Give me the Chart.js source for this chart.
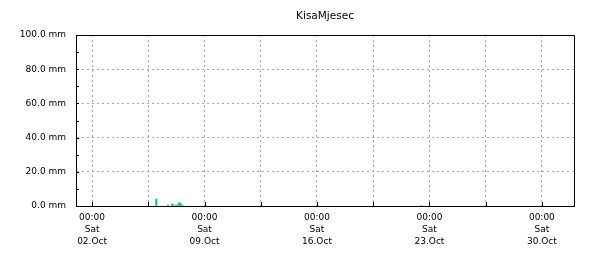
<!DOCTYPE html>
<html>
<head>
<meta charset="utf-8">
<script src="https://cdn.jsdelivr.net/npm/chart.js@4"></script>
<style>
  body { margin: 0; background: #fff; }
</style>
</head>
<body>
<canvas id="rainChart" width="594" height="255"></canvas>
<script>

    // days counted from 01.Oct 00:00
    const rainDays = [5.00, 5.72, 5.99, 6.12, 6.27, 6.41, 6.49, 6.61, 21.51]
    const rainMm = [4.1, 0.6, 1.2, 0.6, 0.6, 1.75, 1.75, 0.6, 0.3]

    const gridDays = [1, 4.5, 8, 11.5, 15, 18.5, 22, 25.5, 29]
    const labelDays = [1, 8, 15, 22, 29]
    const tickLabels = [
        ["00:00", "Sat", "02.Oct"],
        ["00:00", "Sat", "09.Oct"],
        ["00:00", "Sat", "16.Oct"],
        ["00:00", "Sat", "23.Oct"],
        ["00:00", "Sat", "30.Oct"]
    ]

    const font = { family: "DejaVu Sans", size: 9, lineHeight: 1.3 }

    const frame = {
        id: 'frame',
        afterDraw(chart) {
            const { ctx, chartArea: a, scales } = chart
            ctx.save()
            ctx.strokeStyle = '#000'
            ctx.lineWidth = 1
            ctx.beginPath()
            ctx.moveTo(a.left, a.top + 0.5)
            ctx.lineTo(a.right + 0.5, a.top + 0.5)
            ctx.lineTo(a.right + 0.5, a.bottom)
            scales.x.ticks.forEach(t => {
                const px = Math.round(scales.x.getPixelForValue(t.value)) + 0.5
                ctx.moveTo(px, a.bottom)
                ctx.lineTo(px, a.bottom - 4)
            })
            scales.y.ticks.forEach(t => {
                const py = Math.round(scales.y.getPixelForValue(t.value)) + 0.5
                ctx.moveTo(a.left, py)
                ctx.lineTo(a.left + 3, py)
            })
            ctx.stroke()
            ctx.restore()
        }
    }

    const ctx = document.getElementById("rainChart")

    const data = {
        datasets: [{
            data: rainDays.map((d, i) => ({ x: d, y: rainMm[i] })),
            backgroundColor: '#10bcbc',
            barThickness: 1.5,
            grouped: false
        }]
    }

    const config = {
        type: 'bar',
        data: data,
        options: {
            responsive: false,
            devicePixelRatio: 1,
            animation: false,
            layout: { padding: { left: 0, right: 20, top: 0, bottom: 0 } },
            plugins: {
                legend: { display: false },
                tooltip: { enabled: false },
                title: {
                    display: true,
                    text: 'KisaMjesec',
                    fullSize: false,
                    color: '#000',
                    font: { family: "DejaVu Sans", size: 10.5, weight: 'normal', lineHeight: 1.2 },
                    padding: { top: 10, bottom: 12.4 }
                }
            },
            scales: {
                x: {
                    type: 'linear',
                    min: 0,
                    max: 31,
                    offset: false,
                    afterBuildTicks: scale => {
                        scale.ticks = gridDays.map(v => ({ value: v }))
                    },
                    afterFit: scale => { scale.height = 49 },
                    ticks: {
                        autoSkip: false,
                        maxRotation: 0,
                        padding: 6,
                        color: '#000',
                        font: font,
                        callback: v => {
                            const i = labelDays.indexOf(v)
                            return i < 0 ? '' : tickLabels[i]
                        }
                    },
                    grid: { color: '#a6a6a6', drawTicks: false, offset: false },
                    border: { color: '#000', width: 1, dash: [2, 3] }
                },
                y: {
                    min: 0,
                    max: 100,
                    afterFit: scale => { scale.width = 76 },
                    ticks: {
                        stepSize: 10,
                        autoSkip: false,
                        padding: 10,
                        color: '#000',
                        font: font,
                        callback: v => v % 20 === 0 ? v.toFixed(1) + ' mm' : ''
                    },
                    grid: {
                        drawTicks: false,
                        color: c => c.tick && c.tick.value % 20 === 0 ? '#a6a6a6' : 'rgba(0,0,0,0)'
                    },
                    border: { color: '#000', width: 1, dash: [2, 3] }
                }
            }
        },
        plugins: [frame]
    }

    const chart = new Chart(ctx, config)

</script>
</body>
</html>
